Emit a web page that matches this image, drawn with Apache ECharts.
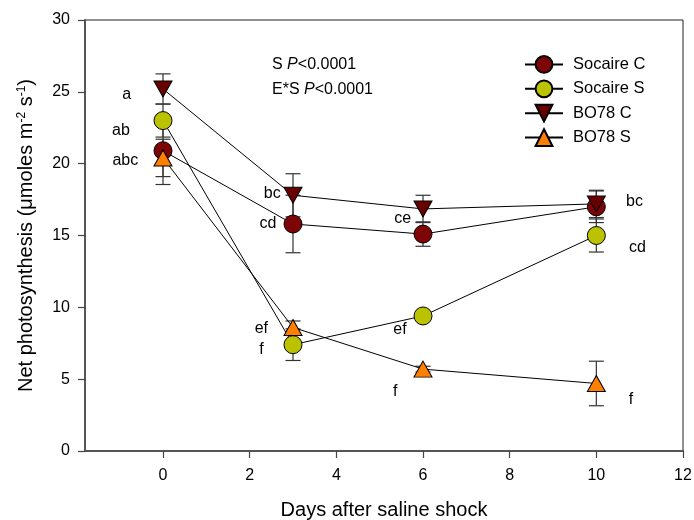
<!DOCTYPE html>
<html>
<head>
<meta charset="utf-8">
<script src="https://cdn.jsdelivr.net/npm/echarts@6/dist/echarts.min.js"></script>
<style>
  html, body { margin: 0; padding: 0; background: #fff; }
  #chart { width: 694px; height: 520px; }
</style>
</head>
<body>
<div id="chart"></div>
<script>
var days = [0, 3, 6, 10];
var seriesNames = ['Socaire C', 'Socaire S', 'BO78 C', 'BO78 S'];

var socaireC = [20.9, 15.8, 15.1, 17.0];
var socaireS = [23.0, 7.4, 9.4, 15.0];
var bo78C = [25.2, 17.8, 16.85, 17.2];
var bo78S = [20.4, 8.6, 5.7, 4.7];

// standard errors (symmetric)
var socaireCErr = [2.35, 2.0, 0.85, 1.1];
var socaireSErr = [1.15, 1.1, 0.3, 1.15];
var bo78CErr = [1.05, 1.5, 0.95, 0.95];
var bo78SErr = [1.3, 0.45, 0.2, 1.55];

// significance letters
var letterX = [-0.84, -0.97, -0.87, 2.52, 2.42, 2.27, 2.27, 5.53, 5.47, 5.36, 10.88, 10.95, 10.8];
var letterY = [24.78, 22.28, 20.2, 17.93, 15.8, 8.49, 7.03, 16.2, 8.42, 4.13, 17.35, 14.18, 3.55];
var letterText = ['a', 'ab', 'abc', 'bc', 'cd', 'ef', 'f', 'ce', 'ef', 'f', 'bc', 'cd', 'f'];

var xTicks = [0, 2, 4, 6, 8, 10, 12];

var colors = {
    'Socaire C': '#7d0505',
    'Socaire S': '#bbc200',
    'BO78 C': '#680000',
    'BO78 S': '#ff8000'
};

var FONT = 'Liberation Sans';

function pairs(vals) {
    return days.map(function (d, i) { return [d, vals[i]]; });
}

function errData(vals, errs) {
    return days.map(function (d, i) { return [d, vals[i] - errs[i], vals[i] + errs[i]]; });
}

function errorSeries(vals, errs) {
    return {
        type: 'custom',
        silent: true,
        z: 1,
        data: errData(vals, errs),
        renderItem: function (params, api) {
            var lo = api.coord([api.value(0), api.value(1)]);
            var hi = api.coord([api.value(0), api.value(2)]);
            var w = 7.5;
            var st = { stroke: '#333', lineWidth: 1.2 };
            return {
                type: 'group',
                children: [
                    { type: 'line', shape: { x1: lo[0], y1: lo[1], x2: hi[0], y2: hi[1] }, style: st },
                    { type: 'line', shape: { x1: lo[0] - w, y1: lo[1], x2: lo[0] + w, y2: lo[1] }, style: st },
                    { type: 'line', shape: { x1: hi[0] - w, y1: hi[1], x2: hi[0] + w, y2: hi[1] }, style: st }
                ]
            };
        }
    };
}

function lineSeries(name, vals, symbol, size, rotate) {
    return {
        name: name,
        type: 'line',
        z: 3,
        data: pairs(vals),
        symbol: symbol,
        symbolSize: size,
        symbolRotate: rotate || 0,
        showAllSymbol: true,
        lineStyle: { color: '#000', width: 1 },
        itemStyle: { color: colors[name], borderColor: '#000', borderWidth: 1 },
        emphasis: { disabled: true }
    };
}

var chart = echarts.init(document.getElementById('chart'));

var statRich = { i: { fontStyle: 'italic', fontSize: 16, fontFamily: FONT, fill: '#000' } };

var option = {
    animation: false,
    textStyle: { fontFamily: FONT },
    grid: {
        left: 85, top: 20, right: 11, bottom: 69,
        outerBoundsMode: 'none',
        show: true, borderColor: '#222', borderWidth: 1
    },
    legend: {
        orient: 'vertical',
        left: 519,
        top: 50,
        itemWidth: 38,
        itemHeight: 21,
        itemGap: 5.6,
        data: seriesNames,
        textStyle: { fontSize: 16.5, color: '#000', fontFamily: FONT, padding: [0, 0, 0, 5] },
        symbolRotate: 'inherit'
    },
    graphic: [
        {
            type: 'text', left: 272, top: 57,
            style: { text: 'S {i|P}<0.0001', fill: '#000', font: '16px ' + FONT, rich: statRich }
        },
        {
            type: 'text', left: 272, top: 82,
            style: { text: 'E*S {i|P}<0.0001', fill: '#000', font: '16px ' + FONT, rich: statRich }
        }
    ],
    xAxis: {
        type: 'value',
        min: -1.8,
        max: 12,
        name: 'Days after saline shock',
        nameLocation: 'middle',
        nameGap: 49,
        nameTextStyle: { fontSize: 20, color: '#000', fontFamily: FONT },
        axisLine: { onZero: false, lineStyle: { color: '#555', width: 2 } },
        axisTick: { customValues: xTicks, length: 7, lineStyle: { color: '#444', width: 1.2 } },
        axisLabel: { customValues: xTicks, fontSize: 16, color: '#000', margin: 17 },
        splitLine: { show: false }
    },
    yAxis: {
        type: 'value',
        min: 0,
        max: 30,
        interval: 5,
        name: 'Net photosynthesis (\u03bcmoles m{sup|-2} s{sup|-1})',
        nameLocation: 'middle',
        nameGap: 48,
        nameTextStyle: {
            fontSize: 20, color: '#000', fontFamily: FONT,
            rich: { sup: { fontSize: 12, verticalAlign: 'top', color: '#000', fontFamily: FONT, padding: [0, 0, 9, 0] } }
        },
        axisLine: { show: true, onZero: false, lineStyle: { color: '#555', width: 2 } },
        axisTick: { show: true, length: 7, lineStyle: { color: '#444', width: 1.2 } },
        axisLabel: { fontSize: 16, color: '#000', margin: 15 },
        splitLine: { show: false }
    },
    series: [
        errorSeries(socaireC, socaireCErr),
        errorSeries(socaireS, socaireSErr),
        errorSeries(bo78C, bo78CErr),
        errorSeries(bo78S, bo78SErr),
        lineSeries('Socaire C', socaireC, 'circle', 18),
        lineSeries('Socaire S', socaireS, 'circle', 18),
        lineSeries('BO78 C', bo78C, 'triangle', [18, 16], 180),
        lineSeries('BO78 S', bo78S, 'triangle', [18, 16]),
        {
            type: 'scatter',
            silent: true,
            z: 4,
            symbolSize: 0,
            itemStyle: { opacity: 1 },
            data: letterX.map(function (x, i) { return [x, letterY[i], letterText[i]]; }),
            label: {
                show: true,
                position: 'inside',
                fontSize: 16,
                color: '#000',
                opacity: 1,
                fontFamily: FONT,
                formatter: function (p) { return p.data[2]; }
            }
        }
    ]
};

chart.setOption(option);
</script>
</body>
</html>
